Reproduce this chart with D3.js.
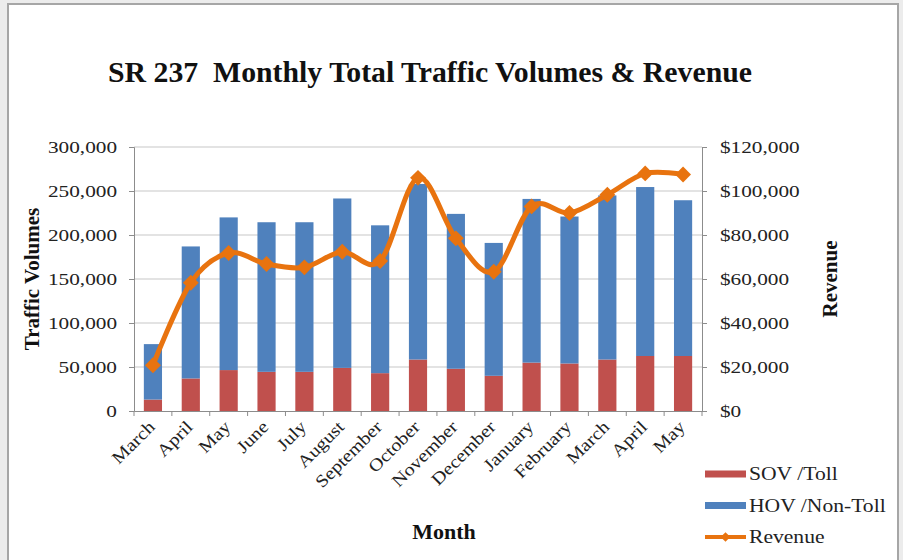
<!DOCTYPE html>
<html><head><meta charset="utf-8">
<script src="https://cdn.jsdelivr.net/npm/d3@7"></script>
<style>
html,body{margin:0;padding:0;background:#ececec;}
svg{display:block;}
text{font-family:"Liberation Serif","Times New Roman",serif;}
</style></head>
<body>
<svg id="c" width="903" height="560"></svg>
<script>
const months = ["March","April","May","June","July","August","September","October","November","December","January","February","March","April","May"];
const sovToll = [13000,37000,46500,44500,44500,49000,43000,58500,48000,40000,55000,54000,58500,62500,62500];
const totalVolume = [76000,187000,220000,214500,214500,241500,211000,258000,224000,191000,241000,221000,245000,254500,239500];
const revenue = [20800,58300,71800,66800,65300,72400,68200,106000,78500,63300,93000,90000,98300,108000,107500];
const leftTicks = [0,50000,100000,150000,200000,250000,300000];
const rightTicks = [0,20000,40000,60000,80000,100000,120000];
const hovNonToll = totalVolume.map((t,i)=>t - sovToll[i]);

const svg = d3.select("#c");
svg.append("rect").attr("x",8).attr("y",4).attr("width",890).attr("height",570)
  .attr("fill","#fff").attr("stroke","#a6a6a6").attr("stroke-width",2);

const L=134, R=702, T=147, B=411;
const x = d3.scaleBand().domain(d3.range(months.length)).range([L,R]).paddingInner(0.52).paddingOuter(0.26);
const xb = d3.scaleBand().domain(d3.range(months.length)).range([L,R]);
const y = d3.scaleLinear().domain([0,300000]).range([B,T]);
const y2 = d3.scaleLinear().domain([0,120000]).range([B,T]);

svg.append("g").selectAll("line").data(leftTicks.slice(1)).join("line")
  .attr("x1",L).attr("x2",R).attr("y1",d=>y(d)).attr("y2",d=>y(d))
  .attr("stroke","#c8c8c8").attr("stroke-width",1.2);

const g = svg.append("g");
g.selectAll("rect.sov").data(sovToll).join("rect").attr("class","sov")
  .attr("x",(d,i)=>x(i)).attr("width",x.bandwidth())
  .attr("y",d=>y(d)).attr("height",d=>B-y(d)).attr("fill","#C0504D");
g.selectAll("rect.hov").data(hovNonToll).join("rect").attr("class","hov")
  .attr("x",(d,i)=>x(i)).attr("width",x.bandwidth())
  .attr("y",(d,i)=>y(totalVolume[i])).attr("height",d=>y(0)-y(d)).attr("fill","#4F81BD");

const axCol="#8c8c8c";
const fmt = d3.format(",");
const SX = 1.25;
const la = svg.append("g").attr("transform",`translate(${L},0)`)
  .call(d3.axisLeft(y).tickValues(leftTicks).tickFormat(d=>fmt(d)).tickSize(5).tickPadding(12));
const ra = svg.append("g").attr("transform",`translate(${R},0)`)
  .call(d3.axisRight(y2).tickValues(rightTicks).tickFormat(d=>"$"+fmt(d)).tickSize(5).tickPadding(13));
const xa = svg.append("g").attr("transform",`translate(0,${B})`)
  .call(d3.axisBottom(xb).tickValues([]).tickSize(0));
svg.append("g").selectAll("line").data(d3.range(months.length+1)).join("line")
  .attr("x1",i=>L+i*xb.step()).attr("x2",i=>L+i*xb.step()).attr("y1",B).attr("y2",B+5)
  .attr("stroke",axCol);
[la,ra,xa].forEach(a=>{
  a.selectAll("path,line").attr("stroke",axCol);
  a.selectAll("text").attr("font-size",17).attr("fill","#222").attr("font-family","Liberation Serif")
    .each(function(){ const t=d3.select(this); const xv=+t.attr("x"); t.attr("x",xv/SX).attr("transform",`scale(${SX},1)`); });
});
svg.append("g").selectAll("text").data(months).join("text")
  .attr("transform",(d,i)=>`translate(${xb(i)+xb.bandwidth()/2+3},${B+17}) rotate(-45) scale(1.15,1)`)
  .attr("text-anchor","end").attr("font-size",17.5).attr("fill","#222").text(d=>d);

const line = d3.line().x((d,i)=>xb(i)+xb.bandwidth()/2).y(d=>y2(d)).curve(d3.curveCardinal.tension(0));
svg.append("path").datum(revenue).attr("d",line).attr("fill","none")
  .attr("stroke","#E8730F").attr("stroke-width",5).attr("stroke-linejoin","round");
svg.append("g").selectAll("path").data(revenue).join("path")
  .attr("transform",(d,i)=>`translate(${xb(i)+xb.bandwidth()/2},${y2(d)})`)
  .attr("d",d3.symbol(d3.symbolDiamond2,160)()).attr("fill","#E8730F");

svg.append("text").attr("x",430).attr("y",82).attr("text-anchor","middle")
  .attr("font-size",29).attr("font-weight","bold").attr("fill","#111")
  .attr("textLength",644).attr("lengthAdjust","spacingAndGlyphs")
  .style("white-space","pre").attr("xml:space","preserve")
  .text("SR 237  Monthly Total Traffic Volumes & Revenue");
svg.append("text").attr("transform","translate(39,279) rotate(-90)").attr("text-anchor","middle")
  .attr("font-size",21).attr("font-weight","bold").attr("fill","#111").text("Traffic Volumes");
svg.append("text").attr("transform","translate(837,279) rotate(-90)").attr("text-anchor","middle")
  .attr("font-size",21).attr("font-weight","bold").attr("fill","#111").text("Revenue");
svg.append("text").attr("x",444).attr("y",539).attr("text-anchor","middle")
  .attr("font-size",22).attr("font-weight","bold").attr("fill","#111").text("Month");

const leg = [{n:"SOV /Toll",c:"#C0504D",t:"bar"},{n:"HOV /Non-Toll",c:"#4F81BD",t:"bar"},{n:"Revenue",c:"#E8730F",t:"line"}];
const lg = svg.append("g");
leg.forEach((d,i)=>{
  const yy = 474 + i*31.5;
  if(d.t==="bar"){
    lg.append("rect").attr("x",705).attr("y",yy-3.5).attr("width",41).attr("height",7).attr("fill",d.c);
  } else {
    lg.append("line").attr("x1",705).attr("x2",746).attr("y1",yy).attr("y2",yy).attr("stroke",d.c).attr("stroke-width",4);
    lg.append("path").attr("transform",`translate(725.5,${yy})`).attr("d",d3.symbol(d3.symbolDiamond2,60)()).attr("fill",d.c);
  }
  lg.append("text").attr("transform",`translate(749,${yy+6}) scale(1.2,1)`).attr("font-size",18).attr("fill","#222").text(d.n);
});
</script>
</body></html>
